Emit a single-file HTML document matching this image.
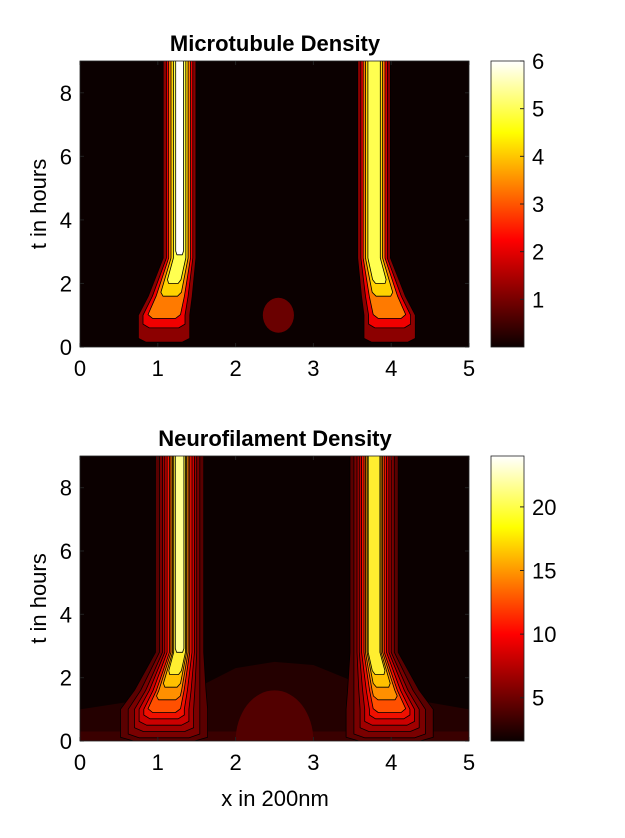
<!DOCTYPE html>
<html><head><meta charset="utf-8"><style>
body{margin:0;background:#fff;width:625px;height:833px;overflow:hidden}
text{font-family:"Liberation Sans",sans-serif}
</style></head><body>
<svg id="fig" width="625" height="833" xmlns="http://www.w3.org/2000/svg">
<defs>
<linearGradient id="hot" x1="0" y1="1" x2="0" y2="0">
<stop offset="0" stop-color="#0b0000"/><stop offset="0.375" stop-color="#ff0000"/><stop offset="0.75" stop-color="#ffff00"/><stop offset="1" stop-color="#ffffff"/>
</linearGradient>
<clipPath id="c1"><rect x="80" y="61" width="389" height="286"/></clipPath>
<clipPath id="c2"><rect x="80" y="456" width="389" height="285"/></clipPath>
</defs>
</svg>
<script>
// ---- data ----
const xTicks=[0,1,2,3,4,5];
const tTicks=[0,2,4,6,8];
const cbTicksTop=[1,2,3,4,5,6];
const cbTicksBot=[5,10,15,20];
const mtColors=["#8c0000","#f00000","#ff7a00","#ffd200","#ffff50","#ffffff"];
const mtBottom=[0.15,0.6,0.9,1.6,2.0,2.9];
const mtWidth=[0.21,0.17,0.14,0.11,0.08,0.05];
const mtBulge=[0.12,0.1,0.07,0.04,0.02,0];
const mtCenters=[1.28,3.78];
const mtShift=[0.2,-0.2];
const mtLevelsPerPeak=[6,5];
const blob=[2.55,1.0,0.2,0.55];
const nfColors=["#5a0000","#7a0000","#a00000","#cc0000","#f01000","#ff5000","#ff9000","#ffc000","#ffee30","#ffff90"];
const nfBottom=[0,0.1,0.3,0.5,0.7,0.9,1.3,1.7,2.1,2.8];
const nfWidth=[0.31,0.26,0.22,0.19,0.16,0.13,0.11,0.09,0.075,0.055];
const nfBulge=[0.25,0.2,0.16,0.13,0.1,0.08,0.06,0.04,0.02,0];
const nfLevelsPerPeak=[10,9];
const nfBand=[[0,0],[0,1.0],[0.8,1.3],[1.6,1.8],[2.0,2.3],[2.5,2.5],[3.0,2.4],[3.5,1.9],[4.3,1.3],[5,1.0],[5,0]];
const nfDome=[2.5,0,0.5,1.6];

const svg=document.getElementById('fig');
const NS="http://www.w3.org/2000/svg";
function mk(tag,attrs,parent){const e=document.createElementNS(NS,tag);for(const k in attrs)e.setAttribute(k,attrs[k]);(parent||svg).appendChild(e);return e;}
function txt(s,x,y,size,anchor,weight,parent){const e=mk('text',{x:x,y:y,'font-size':size,'text-anchor':anchor,'font-weight':weight||'normal',fill:'#000'},parent);e.textContent=s;return e;}
function interp(t,ts,vs){ // ts descending
  if(t>=ts[0])return vs[0];
  for(let i=1;i<ts.length;i++){if(t>=ts[i]){const f=(t-ts[i])/(ts[i-1]-ts[i]);return vs[i]+f*(vs[i-1]-vs[i]);}}
  return vs[vs.length-1];
}
function peakPoints(c,d,w,s,tb){
  const ts=[2.8,1.6,1.0];
  const cen=t=>interp(t,ts,[c,c-0.6*d,c-d]);
  const hw=t=>interp(t,ts,[w,w+0.6*s,w+s]);
  const outer=[[cen(9.5)-hw(9.5),9.5]],inner=[[cen(9.5)+hw(9.5),9.5]];
  ts.forEach(t=>{if(t>tb+0.15){outer.push([cen(t)-hw(t),t]);inner.push([cen(t)+hw(t),t]);}});
  const tm=tb+0.12;
  outer.push([cen(tm)-hw(tm),tm]);inner.push([cen(tm)+hw(tm),tm]);
  outer.push([cen(tb)-hw(tb)*0.7,tb]);inner.push([cen(tb)+hw(tb)*0.7,tb]);
  return outer.concat(inner.reverse());
}

function panel(top,bottom,title,colors,bottoms,widths,bulges,levels,cbTicks,cbMin,cbMax,extra,clip,name){
  const X=v=>80+v/5*389, Y=t=>bottom-t/9*(bottom-top);
  const g=mk('g',{});
  
  
  const plot=mk('g',{'clip-path':'url(#'+clip+')'},g);
  const bg=mk('rect',{x:80,y:top,width:389,height:bottom-top,fill:'#0b0000'},plot);
  
  
  extra(plot,X,Y);
  mtCenters.forEach((c,p)=>{
    const d=mtShift[p];
    for(let i=0;i<levels[p];i++){
      const pts=peakPoints(c,d,widths[i],bulges[i],bottoms[i]);
      const e=mk('polygon',{points:pts.map(q=>X(q[0]).toFixed(1)+','+Y(q[1]).toFixed(1)).join(' '),fill:colors[i],stroke:'#000','stroke-width':0.8,'stroke-linejoin':'round'},plot);
      
      
    }
  });
  const fr=mk('rect',{x:80,y:top,width:389,height:bottom-top,fill:'none',stroke:'#222','stroke-width':0.8},g);
  
  
  const tl=txt(title,275,top-10,22,'middle','bold',g);
  
  
  xTicks.forEach(v=>{
    mk('line',{x1:X(v),x2:X(v),y1:bottom,y2:bottom-4,stroke:'#222'},g);
    mk('line',{x1:X(v),x2:X(v),y1:top,y2:top+4,stroke:'#222'},g);
    const e=txt(String(v),X(v),bottom+29,22,'middle','normal',g);
    
    
  });
  tTicks.forEach(v=>{
    mk('line',{x1:80,x2:84,y1:Y(v),y2:Y(v),stroke:'#222'},g);
    mk('line',{x1:469,x2:465,y1:Y(v),y2:Y(v),stroke:'#222'},g);
    const e=txt(String(v),72,Y(v)+8,22,'end','normal',g);
    
    
  });
  const yl=txt('t in hours',0,0,22,'middle','normal',g);
  yl.setAttribute('transform','translate(46,'+((top+bottom)/2)+') rotate(-90)');
  
  
  const cb=mk('rect',{x:491,y:top,width:33,height:bottom-top,fill:'url(#hot)',stroke:'#222','stroke-width':0.8},g);
  
  
  const C=v=>bottom-(v-cbMin)/(cbMax-cbMin)*(bottom-top);
  cbTicks.forEach(v=>{
    mk('line',{x1:520,x2:524,y1:C(v),y2:C(v),stroke:'#222'},g);
    const e=txt(String(v),532,C(v)+8,22,'start','normal',g);
    
    
  });
}
panel(61,347,'Microtubule Density',mtColors,mtBottom,mtWidth,mtBulge,mtLevelsPerPeak,cbTicksTop,0,6,(p,X,Y)=>{
  const e=mk('ellipse',{cx:X(blob[0]),cy:Y(blob[1]),rx:blob[2]/5*389,ry:blob[3]/9*286,fill:'#6a0000'},p);
  
  
},'c1','mt');
panel(456,741,'Neurofilament Density',nfColors,nfBottom,nfWidth,nfBulge,nfLevelsPerPeak,cbTicksBot,1.6,24,(p,X,Y)=>{
  const b=mk('polygon',{points:nfBand.map(q=>X(q[0])+','+Y(q[1])).join(' '),fill:'#240000'},p);
  
  
  const s=mk('rect',{x:80,y:Y(0.3),width:389,height:Y(0)-Y(0.3),fill:'#3a0000'},p);
  
  
  const d=mk('ellipse',{cx:X(nfDome[0]),cy:Y(nfDome[1]),rx:nfDome[2]/5*389,ry:nfDome[3]/9*285,fill:'#520000'},p);
  
  
},'c2','nf');
const xl=txt('x in 200nm',275,806,22,'middle','normal');


</script>
</body></html>
